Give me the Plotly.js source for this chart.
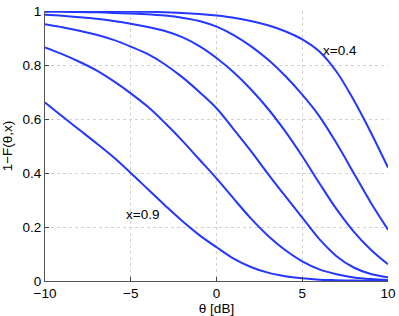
<!DOCTYPE html>
<html>
<head>
<meta charset="utf-8">
<script src="https://cdn.plot.ly/plotly-3.0.1.min.js"></script>
<style>html,body{margin:0;padding:0;background:#fff;}#plot{width:399px;height:316px;}</style>
</head>
<body>
<div id="plot"></div>
<script>
// theta in dB
const theta = [-10,-9,-8,-7,-6,-5,-4,-3,-2,-1,0,1,2,3,4,5,6,7,8,9,10];
// 1-F(theta,x)
const x04 = [1.000,1.000,0.999,0.999,0.998,0.998,0.997,0.995,0.993,0.989,0.983,0.975,0.963,0.947,0.925,0.895,0.850,0.775,0.670,0.550,0.420];
const x05 = [0.997,0.997,0.996,0.995,0.993,0.991,0.988,0.983,0.975,0.963,0.942,0.911,0.870,0.820,0.760,0.690,0.610,0.510,0.400,0.290,0.190];
const x06 = [0.986,0.982,0.977,0.971,0.963,0.953,0.941,0.926,0.903,0.870,0.826,0.773,0.710,0.638,0.555,0.462,0.362,0.266,0.183,0.116,0.062];
const x07 = [0.951,0.940,0.927,0.912,0.893,0.868,0.840,0.802,0.755,0.700,0.640,0.562,0.482,0.397,0.315,0.235,0.155,0.092,0.050,0.026,0.014];
const x08 = [0.865,0.840,0.812,0.780,0.740,0.695,0.645,0.585,0.520,0.450,0.380,0.305,0.232,0.168,0.115,0.073,0.043,0.025,0.013,0.007,0.004];
const x09 = [0.661,0.610,0.560,0.510,0.458,0.400,0.340,0.280,0.222,0.170,0.125,0.083,0.052,0.031,0.018,0.010,0.005,0.003,0.0015,0.0008,0.0004];
const series = [x04, x05, x06, x07, x08, x09];
const seriesNames = ['x=0.4','x=0.5','x=0.6','x=0.7','x=0.8','x=0.9'];
const xTicks = [-10,-5,0,5,10];
const yTicks = [0,0.2,0.4,0.6,0.8,1];

const traces = series.map((s,i)=>({
  x: theta, y: s, name: seriesNames[i], type:'scatter', mode:'lines',
  line:{color:'rgb(35,55,255)', width:2, shape:'spline', smoothing:1},
  hoverinfo:'skip'
}));

const font = {family:'Liberation Sans, Arial, Helvetica, sans-serif', size:13.5, color:'#000'};
const layout = {
  width:399, height:316,
  margin:{l:44.5, r:10.5, t:11, b:35.3, pad:0},
  paper_bgcolor:'#fff', plot_bgcolor:'#fff',
  showlegend:false,
  font: font,
  xaxis:{
    range:[-10,10], tickvals:xTicks, ticktext:xTicks.map(v=>v<0?'\u2212'+Math.abs(v):String(v)),
    ticks:'inside', ticklen:4, tickcolor:'#444',
    showline:true, linecolor:'#555', linewidth:1, mirror:false,
    showgrid:true, gridcolor:'#d2d2d2', griddash:'dot', gridwidth:1,
    zeroline:false,
    title:{text:'\u03b8 [dB]', font:font, standoff:2},
    tickfont:font
  },
  yaxis:{
    range:[0,1], tickvals:yTicks, ticktext:yTicks.map(v=>String(v)),
    ticks:'inside', ticklen:4, tickcolor:'#444',
    showline:true, linecolor:'#555', linewidth:1, mirror:false,
    showgrid:true, gridcolor:'#d2d2d2', griddash:'dot', gridwidth:1,
    zeroline:false,
    title:{text:'1\u2212F(\u03b8,x)', font:font, standoff:6},
    tickfont:font
  },
  annotations:[
    {x:7.2, y:0.852, xref:'x', yref:'y', text:'x=0.4', showarrow:false, font:font},
    {x:-4.3, y:0.247, xref:'x', yref:'y', text:'x=0.9', showarrow:false, font:font}
  ]
};
Plotly.newPlot('plot', traces, layout, {staticPlot:true, displayModeBar:false});
</script>
</body>
</html>
